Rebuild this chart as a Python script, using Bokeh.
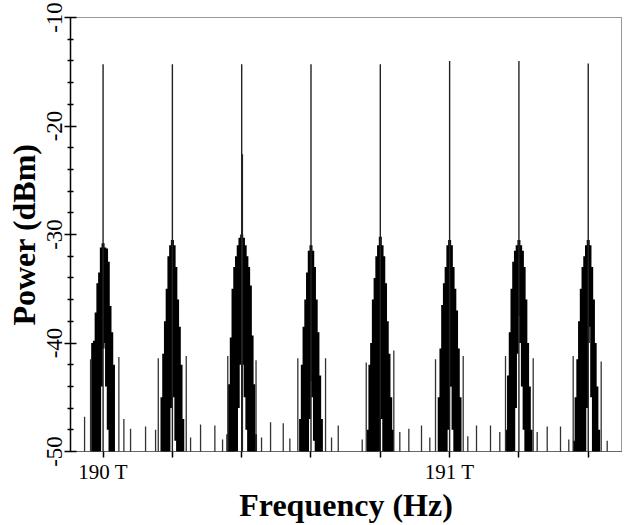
from bokeh.plotting import figure
from bokeh.models import Range1d, FixedTicker, ColumnDataSource
from bokeh.embed import file_html
from bokeh.resources import INLINE

# ---------------- data ----------------
channel_thz = [190.0, 190.2, 190.4, 190.6, 190.8, 191.0, 191.2, 191.4]
carrier_dbm = [-14.3, -14.3, -14.3, -14.3, -14.3, -14.0, -14.0, -14.25]
noise_floor_dbm = -60.0

# sideband line offsets from each carrier (GHz)
side_offsets_ghz = [-45, -40, -35, -30, -25, -20, -15, -10, -5, 0,
                    5, 10, 15, 20, 25, 30, 35, 40, 45]

# upper / lower level of the sideband lines, one pair per channel
ch1_hi = [-60, -60, -60, -40.0, -39.8, -37.2, -34.5, -33.5, -31.2, -30.8, -31.2, -31.3, -32.5, -36.6, -39.0, -42.0, -60, -60, -60]
ch1_lo = [-60, -60, -60, -60, -60, -60, -60, -52, -44, -40.5, -40.0, -44, -48, -52, -60, -60, -60, -60, -60]
ch2_hi = [-60, -60, -60, -45, -41, -38, -35, -32, -31, -30.5, -31, -33, -36, -38.5, -42, -47, -60, -60, -60]
ch2_lo = [-60, -60, -60, -60, -60, -60, -60, -52, -46, -43, -45, -49, -60, -60, -60, -60, -60, -60, -60]
ch3_hi = [-60, -48.4, -43.8, -39.5, -35.0, -33.0, -32.0, -31.0, -30.3, -30.0, -30.3, -31.0, -32.0, -33.0, -34.7, -39.3, -43.8, -48.4, -60]
ch3_lo = [-60, -60, -60, -60, -60, -55, -50, -46, -42, -40.8, -42, -45, -48, -51, -60, -60, -60, -60, -60]
ch4_hi = [-60, -60, -60, -47, -42, -38.5, -36, -33.5, -31.5, -31, -31.5, -33, -36, -39, -43, -47, -60, -60, -60]
ch4_lo = [-60, -60, -60, -60, -60, -60, -60, -53, -47, -43.5, -45, -49, -60, -60, -60, -60, -60, -60, -60]
ch5_hi = [-60, -60, -48, -42, -40, -36, -34, -32, -31, -30.2, -31, -32, -34.5, -38, -41, -45, -48, -60, -60]
ch5_lo = [-60, -60, -60, -60, -60, -60, -60, -60, -50, -44, -47, -60, -60, -60, -60, -60, -60, -60, -60]
ch6_hi = [-60, -60, -60, -45, -40.5, -36.5, -34.5, -33, -31, -30.5, -31, -33, -35, -37, -40.5, -45, -60, -60, -60]
ch6_lo = [-60, -60, -60, -60, -60, -60, -60, -54, -48, -44, -44, -48, -53, -60, -60, -60, -60, -60, -60]
ch7_hi = [-60, -60, -48, -43, -39, -35, -32.5, -31.5, -31, -30.5, -31, -31.5, -33, -36, -40, -44, -48, -60, -60]
ch7_lo = [-60, -60, -60, -60, -60, -55, -50, -46, -41, -37.5, -40, -44, -48, -53, -60, -60, -60, -60, -60]
ch8_hi = [-60, -49, -45, -41.5, -38, -35, -33, -32, -31, -30.5, -31, -33, -36, -40, -44, -48, -60, -60, -60]
ch8_lo = [-60, -60, -60, -60, -60, -60, -60, -52, -46, -40, -38.5, -45, -52, -60, -60, -60, -60, -60, -60]

# secondary line next to the 190.4 THz carrier
secondary_thz = [190.402]
secondary_dbm = [-22.6]

# isolated spurious lines between the channels
spur_thz = [189.9466, 189.9639, 190.0456, 190.0600, 190.0793, 190.1226, 190.1515,
            190.1593, 190.2400, 190.2525, 190.2813, 190.3226, 190.3448, 190.3598,
            190.4414, 190.4573, 190.4833, 190.5199, 190.5390, 190.5620, 190.6420,
            190.6593, 190.6786, 190.7478, 190.7594, 190.8390, 190.8563, 190.8823,
            190.9189, 190.9429, 190.9593, 191.0392, 191.0525, 191.0776, 191.1180,
            191.1448, 191.1613, 191.2412, 191.2527, 191.2816, 191.3200, 191.3439,
            191.3566, 191.4374, 191.4547]
spur_dbm = [-46.8, -41.5, -41.3, -47.0, -47.9, -47.7, -48.0,
            -41.4, -41.2, -48.7, -47.5, -47.6, -48.9, -41.2,
            -41.6, -48.7, -47.3, -47.4, -48.8, -41.4, -41.4,
            -48.7, -47.6, -48.9, -41.8, -40.7, -48.2, -47.9,
            -47.6, -48.7, -41.5, -41.2, -48.6, -47.6, -47.6,
            -48.2, -41.2, -41.4, -48.2, -47.7, -47.7, -48.9,
            -41.2, -41.7, -49.0]

x_major_ticks = [190, 191]
x_tick_labels = ["190 T", "191 T"]
x_minor_ticks = [190.2, 190.4, 190.6, 190.8, 191.2, 191.4]

y_major_ticks = [-50, -40, -30, -20, -10]
y_tick_labels = ["-50", "-40", "-30", "-20", "-10"]
y_minor_ticks = [-48, -46, -44, -42, -38, -36, -34, -32, -28, -26, -24, -22,
                 -18, -16, -14, -12]

# ---------------- build sources ----------------
his = [ch1_hi, ch2_hi, ch3_hi, ch4_hi, ch5_hi, ch6_hi, ch7_hi, ch8_hi]
los = [ch1_lo, ch2_lo, ch3_lo, ch4_lo, ch5_lo, ch6_lo, ch7_lo, ch8_lo]
sx, sy0, sy1 = [], [], []
for c, hi, lo in zip(channel_thz, his, los):
    for off, h, l in zip(side_offsets_ghz, hi, lo):
        if h > l:
            sx.append(c + off / 1000.0)
            sy0.append(l)
            sy1.append(h)
side_src = ColumnDataSource(dict(x=sx, y0=sy0, y1=sy1))

spur_src = ColumnDataSource(dict(x=spur_thz, y0=[noise_floor_dbm] * len(spur_thz), y1=spur_dbm))
car_src = ColumnDataSource(dict(x=channel_thz + secondary_thz,
                                y0=[noise_floor_dbm] * (len(channel_thz) + len(secondary_thz)),
                                y1=carrier_dbm + secondary_dbm))

# ---------------- figure ----------------
p = figure(width=627, height=525,
           x_range=Range1d(189.906, 191.496), y_range=Range1d(-50, -10),
           output_backend="svg", toolbar_location=None,
           min_border_left=70, min_border_right=6, min_border_top=17, min_border_bottom=67)
p.background_fill_color = "white"
p.border_fill_color = "white"
p.grid.visible = False
p.outline_line_color = "#333333"
p.outline_line_dash = "1 1"
p.outline_line_width = 1

p.segment(x0="x", y0="y0", x1="x", y1="y1", source=side_src, line_color="black", line_width=3.0)
p.segment(x0="x", y0="y0", x1="x", y1="y1", source=spur_src, line_color="#333333", line_width=1.3)
p.segment(x0="x", y0="y0", x1="x", y1="y1", source=car_src, line_color="#222222", line_width=1.4)

tick_font = "Liberation Serif"
title_font = "Liberation Serif"

# x axis
xa = p.xaxis[0]
xa.ticker = FixedTicker(ticks=x_major_ticks, minor_ticks=x_minor_ticks)
xa.major_label_overrides = dict(zip(x_major_ticks, x_tick_labels))
xa.axis_label = "Frequency (Hz)"
xa.axis_label_text_font = title_font
xa.axis_label_text_font_style = "bold"
xa.axis_label_text_font_size = "32px"
xa.axis_label_text_color = "black"
xa.axis_label_standoff = 0
xa.major_label_text_font = tick_font
xa.major_label_text_font_size = "21px"
xa.major_label_text_color = "black"
xa.major_label_standoff = 2
xa.axis_line_color = "#333333"
xa.axis_line_dash = "1 1"
xa.major_tick_in = 0
xa.major_tick_out = 6
xa.minor_tick_in = 0
xa.minor_tick_out = 6
xa.major_tick_line_color = "black"
xa.minor_tick_line_color = "black"
xa.major_tick_line_width = 1.5
xa.minor_tick_line_width = 1.5

# y axis
ya = p.yaxis[0]
ya.ticker = FixedTicker(ticks=y_major_ticks, minor_ticks=y_minor_ticks)
ya.major_label_overrides = dict(zip(y_major_ticks, y_tick_labels))
ya.axis_label = "Power (dBm)"
ya.axis_label_text_font = title_font
ya.axis_label_text_font_style = "bold"
ya.axis_label_text_font_size = "32px"
ya.axis_label_text_color = "black"
ya.axis_label_standoff = 2
ya.major_label_text_font = tick_font
ya.major_label_text_font_size = "23px"
ya.major_label_text_color = "black"
ya.major_label_orientation = "vertical"
ya.major_label_standoff = 3
ya.axis_line_color = "black"
ya.axis_line_width = 1.5
ya.major_tick_in = 6
ya.major_tick_out = 6
ya.minor_tick_in = 3
ya.minor_tick_out = 3
ya.major_tick_line_color = "black"
ya.minor_tick_line_color = "black"
ya.major_tick_line_width = 1.5
ya.minor_tick_line_width = 1.5

open("out.html", "w").write(file_html(p, INLINE))
